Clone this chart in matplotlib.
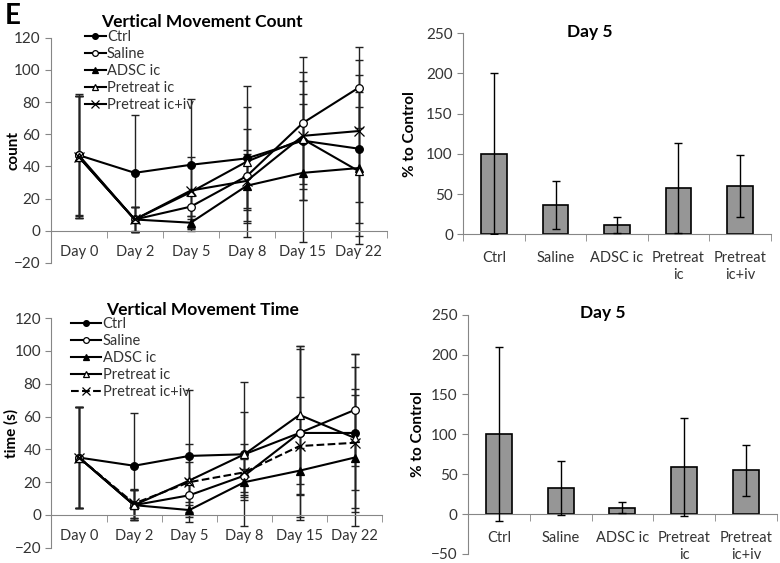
import matplotlib
matplotlib.use('Agg')
import matplotlib.pyplot as plt
from matplotlib.ticker import FixedLocator, NullFormatter
import numpy as np

plt.rcParams['font.family'] = ['Lato', 'DejaVu Sans']

days = ['Day 0', 'Day 2', 'Day 5', 'Day 8', 'Day 15', 'Day 22']
groups = ['Ctrl', 'Saline', 'ADSC ic', 'Pretreat ic', 'Pretreat ic+iv']
bar_labels = ['Ctrl', 'Saline', 'ADSC ic', 'Pretreat\nic', 'Pretreat\nic+iv']

# vertical movement count (mean, sd)
count_ctrl = [47, 36, 41, 45, 56, 51]
count_saline = [47, 7, 15, 34, 67, 89]
count_adsc = [46, 7, 5, 28, 36, 39]
count_pre_ic = [46, 7, 24, 43, 57, 37]
count_pre_iciv = [46, 7, 25, 31, 59, 62]
count_ctrl_sd = [37, 36, 41, 32, 37, 46]
count_saline_sd = [38, 8, 8, 29, 41, 25]
count_adsc_sd = [38, 8, 4, 22, 43, 47]
count_pre_ic_sd = [38, 8, 22, 47, 28, 40]
count_pre_iciv_sd = [38, 8, 16, 17, 40, 44]

# vertical movement time (mean, sd)
time_ctrl = [35, 30, 36, 37, 50, 50]
time_saline = [35, 6, 12, 24, 50, 64]
time_adsc = [35, 6, 3, 20, 27, 35]
time_pre_ic = [35, 6, 21, 37, 61, 47]
time_pre_iciv = [35, 7, 20, 26, 42, 44]
time_ctrl_sd = [31, 32, 40, 44, 53, 48]
time_saline_sd = [31, 9, 10, 10, 51, 34]
time_adsc_sd = [31, 9, 3, 8, 14, 42]
time_pre_ic_sd = [31, 9, 22, 26, 42, 43]
time_pre_iciv_sd = [31, 9, 12, 17, 30, 29]

# day 5, % to control
count_day5 = [100, 36, 12, 58, 60]
count_day5_sd = [100, 30, 10, 56, 39]
time_day5 = [100, 33, 8, 59, 55]
time_day5_sd = [109, 34, 7, 61, 32]

axis_gray = '#868686'
text_col = '#333333'


def style_axes(ax, n):
    for s in ['top', 'right']:
        ax.spines[s].set_visible(False)
    ax.spines['left'].set_color(axis_gray)
    ax.spines['bottom'].set_color(axis_gray)
    ax.spines['bottom'].set_position(('data', 0))
    ax.set_xlim(-0.5, n - 0.5)
    ax.xaxis.set_minor_locator(FixedLocator(np.arange(-0.5, n, 1.0)))
    ax.xaxis.set_minor_formatter(NullFormatter())
    ax.tick_params(axis='x', which='major', length=0, pad=10, labelsize=10.5, colors=text_col)
    ax.tick_params(axis='x', which='minor', length=5, direction='out', color=axis_gray)
    ax.tick_params(axis='y', length=4, color=axis_gray, labelsize=11, labelcolor=text_col)


def line_panel(ax, series, sds, dashed_last, ylabel, label_x):
    x = np.arange(len(days))
    markers = [('o', 'black'), ('o', 'white'), ('^', 'black'), ('^', 'white'), ('x', 'black')]
    for i, (vals, sd) in enumerate(zip(series, sds)):
        m, fc = markers[i]
        ls = '--' if (dashed_last and i == 4) else '-'
        ax.errorbar(x, vals, yerr=sd, fmt='none', ecolor='#222222', elinewidth=1,
                    capsize=3, capthick=1, zorder=2)
        ax.plot(x, vals, color='black', lw=1.5, ls=ls, marker=m, ms=5.5 if m != 'x' else 7,
                mfc=fc, mec='black', mew=0.9, label=groups[i], zorder=3)
    style_axes(ax, len(days))
    ax.set_ylim(-20, 120)
    ax.set_yticks(range(-20, 121, 20))
    ax.set_xticks(x)
    ax.set_xticklabels(days)
    ax.set_ylabel(ylabel, fontsize=11, fontweight='bold', color='black')
    ax.yaxis.set_label_coords(label_x, 0.5)
    return ax


def bar_panel(ax, vals, sd, ylim, ticks, label_x):
    x = np.arange(len(bar_labels))
    ax.bar(x, vals, width=0.42, color='#969696', edgecolor='black', linewidth=1.2, zorder=2)
    ax.errorbar(x, vals, yerr=sd, fmt='none', ecolor='black', elinewidth=1, capsize=3,
                capthick=1, zorder=3)
    style_axes(ax, len(bar_labels))
    ax.set_ylim(*ylim)
    ax.set_yticks(ticks)
    ax.set_xticks(x)
    ax.set_xticklabels(bar_labels, linespacing=1.25, va='top')
    ax.tick_params(axis='x', which='major', pad=12)
    ax.set_ylabel('% to Control', fontsize=11, fontweight='bold', color='black')
    ax.yaxis.set_label_coords(label_x, 0.5)


fig = plt.figure(figsize=(7.8, 5.63), dpi=100)

ax1 = fig.add_axes([0.065, 0.533, 0.431, 0.400])
line_panel(ax1, [count_ctrl, count_saline, count_adsc, count_pre_ic, count_pre_iciv],
           [count_ctrl_sd, count_saline_sd, count_adsc_sd, count_pre_ic_sd, count_pre_iciv_sd],
           False, 'count', -0.09)
leg1 = ax1.legend(loc='upper left', bbox_to_anchor=(0.085, 1.06), frameon=False, fontsize=10.5,
                  handlelength=1.4, handletextpad=0.1, labelspacing=0.2, borderaxespad=0,
                  markerscale=0.75)
for t in leg1.get_texts():
    t.set_color(text_col)

ax3 = fig.add_axes([0.066, 0.027, 0.424, 0.408])
line_panel(ax3, [time_ctrl, time_saline, time_adsc, time_pre_ic, time_pre_iciv],
           [time_ctrl_sd, time_saline_sd, time_adsc_sd, time_pre_ic_sd, time_pre_iciv_sd],
           True, 'time (s)', -0.1)
leg3 = ax3.legend(loc='upper left', bbox_to_anchor=(0.04, 1.03), frameon=False, fontsize=10.5,
                  handlelength=2.1, handletextpad=0.1, labelspacing=0.2, borderaxespad=0,
                  markerscale=0.75)
for t in leg3.get_texts():
    t.set_color(text_col)

ax2 = fig.add_axes([0.594, 0.584, 0.394, 0.357])
bar_panel(ax2, count_day5, count_day5_sd, (0, 250), range(0, 251, 50), -0.15)

ax4 = fig.add_axes([0.600, 0.016, 0.396, 0.425])
bar_panel(ax4, time_day5, time_day5_sd, (-50, 250), range(-50, 251, 50), -0.14)

fig.text(0.006, 0.972, 'E', fontsize=20, fontweight='bold', va='center', ha='left')
fig.text(202 / 780, 1 - 22 / 563, 'Vertical Movement Count', fontsize=12.5, fontweight='bold',
         ha='center', va='center')
fig.text(203 / 780, 1 - 310 / 563, 'Vertical Movement Time', fontsize=12.5, fontweight='bold',
         ha='center', va='center')
fig.text(590 / 780, 1 - 32 / 563, 'Day 5', fontsize=12.5, fontweight='bold', ha='center', va='center')
fig.text(603 / 780, 1 - 313 / 563, 'Day 5', fontsize=12.5, fontweight='bold', ha='center', va='center')

fig.savefig('out.png', dpi=100)
